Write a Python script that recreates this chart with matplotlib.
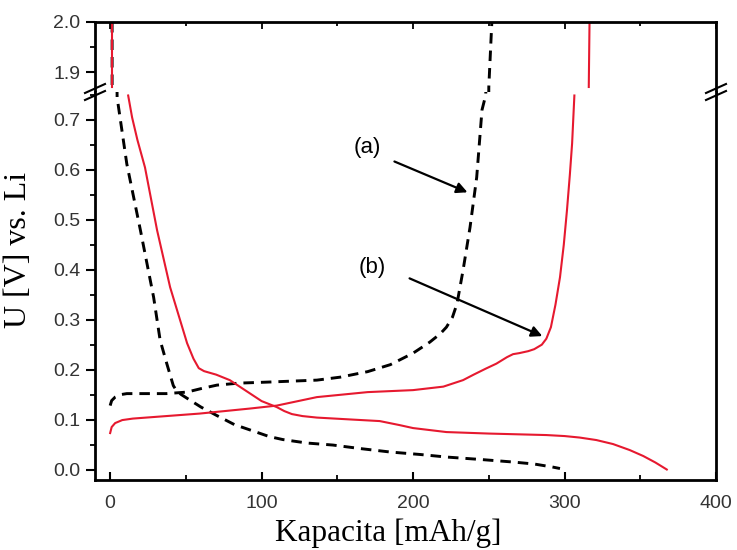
import numpy as np
import matplotlib
matplotlib.use('Agg')
import matplotlib.pyplot as plt
from matplotlib.ticker import MultipleLocator, FixedLocator

####################################################
### Data: capacity [mAh/g] vs. potential [V]
### (a) dashed black, (b) red; NaN = pen lifted across the axis break

a_dis_x = [1.3, 1.3, 4.6, 11, 20, 28.7, 33, 37.4, 41.7, 44, 47, 50.6, 60, 70.5, 82, 94.5, 105, 114,
           130, 147, 165, 185, 205, 222, 245, 266, 280, 292, 297]
a_dis_y = [2.0, 1.87, 0.745, 0.612, 0.479, 0.345, 0.259, 0.212, 0.168, 0.157, 0.150, 0.143, 0.125, 0.108,
           0.090, 0.077, 0.066, 0.060, 0.053, 0.049, 0.042, 0.035, 0.030, 0.025, 0.020, 0.015, 0.011, 0.005, 0.002]

a_chg_x = [0, 1, 3.3, 7, 11, 37, 50.6, 60, 70.5, 85, 103.5, 136.5, 152, 170, 185, 200, 211, 218, 222,
           226, 229, 233, 237.6, 242, 245.5, 248, 250, 252]
a_chg_y = [0.128, 0.138, 0.145, 0.150, 0.152, 0.152, 0.155, 0.162, 0.169, 0.173, 0.175, 0.179, 0.185, 0.196,
           0.210, 0.233, 0.255, 0.272, 0.285, 0.305, 0.332, 0.399, 0.485, 0.585, 0.72, 0.75, 1.87, 2.0]

b_dis_x = [1.3, 1.3, np.nan, 11.9, 14.5, 18, 23, 31, 39.6, 50.8, 55, 58.5, 62, 70, 79, 87, 100, 110, 115,
           120, 127, 136.5, 160, 178, 191, 200, 222, 250, 288, 300, 310, 321, 332, 343, 352, 360, 367.5]
b_dis_y = [2.0, 1.87, np.nan, 0.749, 0.705, 0.66, 0.605, 0.479, 0.365, 0.253, 0.222, 0.203, 0.197, 0.190,
           0.179, 0.163, 0.137, 0.125, 0.117, 0.111, 0.107, 0.104, 0.100, 0.097, 0.089, 0.083, 0.075, 0.072,
           0.069, 0.067, 0.064, 0.059, 0.051, 0.039, 0.027, 0.014, 0.0]

b_chg_x = [0, 1, 3.3, 8, 15, 59, 92, 110, 136.5, 170, 200, 220, 233, 240, 248, 255, 262, 266, 270, 276,
           280, 285, 288, 291, 294, 297, 299.5, 301.6, 303.5, 305, 306.5, np.nan, 316, 316.5]
b_chg_y = [0.073, 0.085, 0.093, 0.099, 0.102, 0.112, 0.122, 0.128, 0.145, 0.155, 0.159, 0.166, 0.179, 0.190,
           0.202, 0.212, 0.225, 0.231, 0.233, 0.237, 0.241, 0.250, 0.262, 0.285, 0.330, 0.385, 0.450, 0.519,
           0.590, 0.653, 0.749, np.nan, 1.87, 2.0]

red = '#e6192f'

####################################################
### Figure with broken y axis

fig = plt.figure(figsize=(7.37, 5.5), dpi=100)
W, H = 737., 550.
L, R = 95 / W, 716 / W
B, T = 1 - 480 / H, 1 - 22 / H
YB = 1 - 92 / H

ax_top = fig.add_axes([L, YB, R - L, T - YB])
ax_bot = fig.add_axes([L, B, R - L, YB - B], sharex=ax_top)

for ax in (ax_top, ax_bot):
    ax.plot(a_dis_x, a_dis_y, color='k', lw=2.1, dashes=(3.6, 2.4))
    ax.plot(a_chg_x, a_chg_y, color='k', lw=2.1, dashes=(3.6, 2.4))
    ax.plot(b_dis_x, b_dis_y, color=red, lw=1.5)
    ax.plot(b_chg_x, b_chg_y, color=red, lw=1.5)
    for s in ax.spines.values():
        s.set_linewidth(2.0)
    ax.yaxis.set_minor_locator(MultipleLocator(0.05))
    ax.tick_params(axis='y', which='major', direction='out', length=6.5, width=1.5,
                   labelsize=14, pad=4, labelcolor='#333333', right=False)
    ax.tick_params(axis='y', which='minor', direction='out', length=3.5, width=1.3, right=False)
    ax.xaxis.set_major_locator(MultipleLocator(100))
    ax.xaxis.set_minor_locator(MultipleLocator(50))

ax_top.spines['bottom'].set_visible(False)
ax_bot.spines['top'].set_visible(False)

ax_top.set_ylim(1.86, 2.0)
ax_top.yaxis.set_major_locator(FixedLocator([1.9, 2.0]))
ax_top.tick_params(axis='x', which='both', direction='in', top=True, bottom=False,
                   labeltop=False, labelbottom=False, width=1.3)
ax_top.tick_params(axis='x', which='major', length=5)
ax_top.tick_params(axis='x', which='minor', length=3)

ax_bot.set_xlim(-10, 400)
ax_bot.set_ylim(-0.021, 0.756)
ax_bot.yaxis.set_major_locator(MultipleLocator(0.1))
ax_bot.yaxis.set_major_formatter(matplotlib.ticker.FormatStrFormatter('%.1f'))
ax_bot.tick_params(axis='x', which='major', direction='in', length=6, width=1.5,
                   labelsize=14, pad=11, labelcolor='#333333', top=False)
ax_bot.tick_params(axis='x', which='minor', direction='in', length=3.5, width=1.3, top=False)

for lab in ax_top.get_yticklabels() + ax_bot.get_yticklabels() + ax_bot.get_xticklabels():
    lab.set_family('Liberation Sans')

# break marks on both spines
for xb in (L, R):
    for dy in (-3.5, 3.5):
        x0, x1 = xb - 10 / W, xb + 10 / W
        y0, y1 = YB + (dy - 4.5) / H, YB + (dy + 4.5) / H
        fig.add_artist(matplotlib.lines.Line2D([x0, x1], [y0, y1], color='k', lw=1.5))

# curve labels
ax_bot.text(169.7, 0.644, '(a)', fontsize=16, family='Liberation Sans', ha='center', va='center')
ax_bot.annotate('', xy=(237.6, 0.553), xytext=(186, 0.619),
                arrowprops=dict(arrowstyle='-|>', color='k', lw=1.6, mutation_scale=16))
ax_bot.text(173, 0.405, '(b)', fontsize=16, family='Liberation Sans', ha='center', va='center')
ax_bot.annotate('', xy=(287, 0.265), xytext=(196, 0.385),
                arrowprops=dict(arrowstyle='-|>', color='k', lw=1.6, mutation_scale=16))

fig.text(388 / W, 1 - 533 / H, 'Kapacita [mAh/g]', fontsize=22.5, family='Liberation Serif',
         ha='center', va='center')
fig.text(19 / W, 1 - 250 / H, 'U [V] vs. Li', fontsize=23, family='Liberation Serif',
         ha='center', va='center', rotation=90)

fig.savefig('out.png', dpi=100)
